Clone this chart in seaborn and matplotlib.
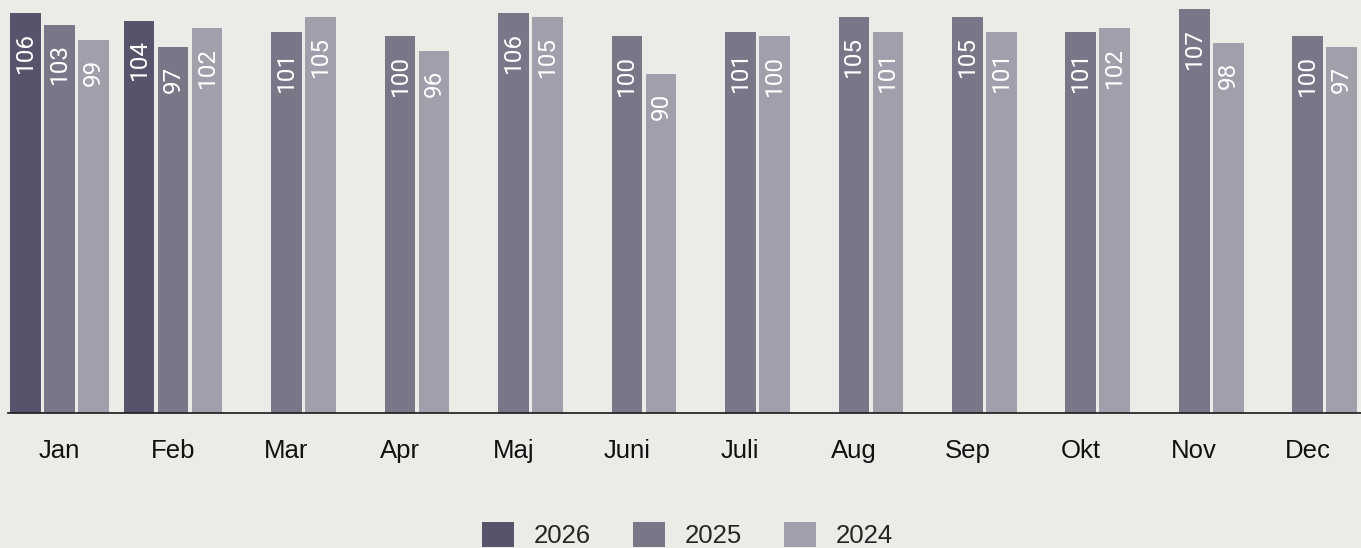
import numpy as np
import pandas as pd
import matplotlib.pyplot as plt
import seaborn as sns
from matplotlib.patches import Patch

months = ["Jan", "Feb", "Mar", "Apr", "Maj", "Juni", "Juli", "Aug", "Sep", "Okt", "Nov", "Dec"]
years = ["2026", "2025", "2024"]
values_2026 = [106, 104, np.nan, np.nan, np.nan, np.nan, np.nan, np.nan, np.nan, np.nan, np.nan, np.nan]
values_2025 = [103, 97, 101, 100, 106, 100, 101, 105, 105, 101, 107, 100]
values_2024 = [99, 102, 105, 96, 105, 90, 100, 101, 101, 102, 98, 97]
colors = ["#58536a", "#7a7688", "#a29eab"]
bg = "#ecebe7"

# long format for seaborn
df = pd.DataFrame({
    "month": months * 3,
    "year": ["2026"] * 12 + ["2025"] * 12 + ["2024"] * 12,
    "value": values_2026 + values_2025 + values_2024,
})

sns.set_style("white", {"axes.facecolor": bg, "figure.facecolor": bg})
plt.rcParams["font.family"] = ["Liberation Sans", "DejaVu Sans"]

fig = plt.figure(figsize=(13.61, 5.48), dpi=100)
ax = fig.add_axes([8 / 1361, 135 / 548, 1353 / 1361, 413 / 548])

sns.barplot(data=df, x="month", y="value", hue="year", order=months, hue_order=years,
            palette=colors, width=0.9, gap=0.1, saturation=1, errorbar=None,
            legend=False, linewidth=0, edgecolor="none", ax=ax)

# value labels inside bars, rotated
for cont in ax.containers:
    for bar in cont:
        h = bar.get_height()
        if np.isnan(h) or h == 0:
            continue
        ax.annotate(f"{h:.0f}", (bar.get_x() + bar.get_width() / 2, h),
                    xytext=(0, -13.5), textcoords="offset points",
                    ha="center", va="top", rotation=90, color="white",
                    fontsize=17.5, family=["Roboto", "DejaVu Sans"])

ax.set_xlim(-0.455, 11.47)
ax.set_ylim(0, 109.5)
ax.set_xlabel("")
ax.set_ylabel("")
ax.set_yticks([])
ax.tick_params(axis="x", length=0, pad=18.5, labelsize=18.5, labelcolor="#111111")
for s in ["top", "right", "left"]:
    ax.spines[s].set_visible(False)
ax.spines["bottom"].set_linewidth(1.2)
ax.spines["bottom"].set_color("#1a1a1a")
ax.spines["bottom"].set_zorder(5)

handles = [Patch(facecolor=c, edgecolor="none") for c in colors]
fig.legend(handles, years, loc="center", bbox_to_anchor=(0.505, 1 - 535 / 548),
           ncol=3, frameon=False, fontsize=18.5, handlelength=1.23, handleheight=1.15,
           handletextpad=0.77, columnspacing=1.65, borderpad=0)

fig.savefig("out.png", dpi=100, facecolor=bg)
